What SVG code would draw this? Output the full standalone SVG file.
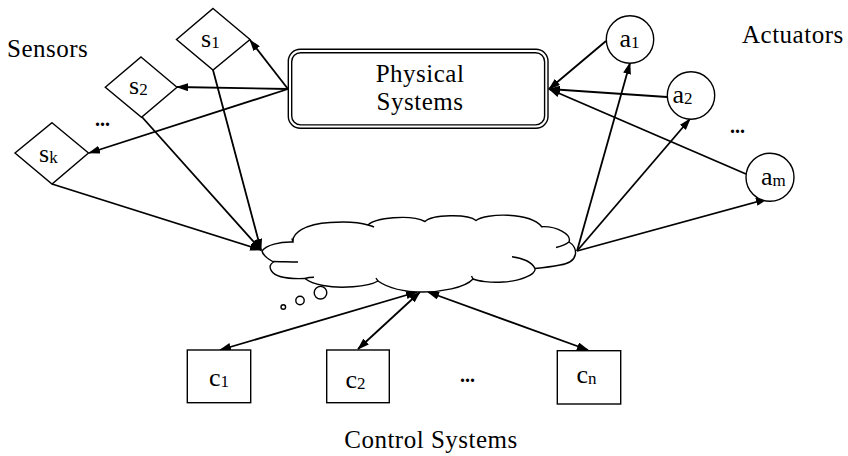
<svg xmlns="http://www.w3.org/2000/svg" width="848" height="456" viewBox="0 0 848 456">
  <defs>
    <marker id="arrow" viewBox="0 0 12 8" refX="11" refY="4" markerWidth="12" markerHeight="8" markerUnits="userSpaceOnUse" orient="auto-start-reverse">
      <path d="M0,0 L12,4 L0,8 z" fill="#000"/>
    </marker>
    <style>
      .shape { fill: #fff; stroke: #000; stroke-width: 1.4; }
      .edge { fill: none; stroke: #000; stroke-width: 1.8; }
      .tip { marker-end: url(#arrow); }
      .both { marker-start: url(#arrow); marker-end: url(#arrow); }
      .thin { fill: none; stroke: #000; stroke-width: 1.4; }
      text { font-family: "Liberation Serif", "Times New Roman", serif; fill: #000; }
      .label { font-size: 25px; letter-spacing: 0.5px; }
      .sym { font-size: 26px; }
      .sub { font-size: 17px; }
      .dots { font-size: 20px; font-weight: bold; }
    </style>
  </defs>

  <rect width="848" height="456" fill="#fff"/>

  <!-- connectors -->
  <g id="connectors">
    <!-- physical systems to sensors -->
    <line class="edge tip" x1="288" y1="89" x2="250" y2="40"/>
    <line class="edge tip" x1="288" y1="89" x2="177" y2="87"/>
    <line class="edge tip" x1="288" y1="89" x2="89" y2="153"/>
    <!-- sensors to network -->
    <line class="edge tip" x1="213" y1="70" x2="261" y2="250"/>
    <line class="edge tip" x1="142" y1="117" x2="261" y2="250"/>
    <line class="edge tip" x1="52" y1="184" x2="261" y2="250"/>
    <!-- network to actuators -->
    <line class="edge tip" x1="577" y1="251" x2="630" y2="63"/>
    <line class="edge tip" x1="577" y1="251" x2="690" y2="119"/>
    <line class="edge tip" x1="577" y1="251" x2="767" y2="199"/>
    <!-- actuators to physical systems -->
    <line class="edge tip" x1="606" y1="41" x2="549" y2="89"/>
    <line class="edge tip" x1="667" y1="97" x2="549" y2="89"/>
    <line class="edge tip" x1="746" y1="174" x2="549" y2="89"/>
    <!-- control systems and network -->
    <line class="edge both" x1="220" y1="350" x2="417" y2="292"/>
    <line class="edge both" x1="358" y1="349" x2="420" y2="292"/>
    <line class="edge both" x1="588" y1="350" x2="428" y2="292"/>
  </g>

  <!-- network cloud -->
  <g id="network">
    <path class="shape" d="M262,251
      C266,245 280,241.5 293,242
      C292,233 305,224 330,222.5
      C345,221.5 360,222.5 368,225
      C375,218 410,214 425,221.5
      C432,214.5 468,213.5 476,220.5
      C486,213 530,212 541.7,226.7
      C556,226 572,234 569,242
      C578,247 580,262 560,265
      C550,267 540,268 535,268.5
      C536,274 522,281 503,282
      C490,283 478,281 473,279
      C465,288 440,292 423,292
      C405,292 388,288 378,281
      C368,287 340,289 323,285.5
      C315,284 308,281 305,278.5
      C292,279 276,278 271.5,271
      C269,267 270,264 273.5,262
      C268,259 263,256 262,251 Z"/>
    <path class="thin" d="M273,261.5 C280,261.5 290,262 298,262"/>
    <path class="thin" d="M293,242 C292.5,240.5 292,239.5 292,238.5"/>
    <path class="thin" d="M368,225 C370,225.5 372,226 374,227"/>
    <path class="thin" d="M378,281 C377,279.5 376.5,279 376,278"/>
    <path class="thin" d="M305,278.5 C308,277.5 311,277.3 314,277.3"/>
    <path class="thin" d="M473,279 C472.5,278 472,277 471.5,276"/>
    <path class="thin" d="M512,256.7 C522,258 532,262 535,268.5"/>
    <path class="thin" d="M569,242 C565,245 560,246.5 556,247.5"/>
    <circle class="thin" cx="320.5" cy="292.7" r="6.3"/>
    <circle class="thin" cx="300" cy="300.5" r="4.2"/>
    <circle class="thin" cx="283.3" cy="307" r="2.3"/>
  </g>

  <!-- physical systems -->
  <g id="physical">
    <rect class="shape" x="288.3" y="49.3" width="259.7" height="79" rx="12"/>
    <rect class="thin" x="291.7" y="52.7" width="252.9" height="72.2" rx="9"/>
    <text class="label" x="420" y="82" text-anchor="middle">Physical</text>
    <text class="label" x="420" y="110" text-anchor="middle">Systems</text>
  </g>

  <!-- sensors -->
  <g id="sensor-1">
    <polygon class="shape" points="213,8.5 250,39.5 213,70 176.5,39.5"/>
    <text x="201" y="46.7"><tspan class="sym">s</tspan><tspan class="sub" dy="1">1</tspan></text>
  </g>
  <g id="sensor-2">
    <polygon class="shape" points="141,57 177,87.3 141.5,117.3 105.3,87.3"/>
    <text x="129" y="94.3"><tspan class="sym">s</tspan><tspan class="sub" dy="1">2</tspan></text>
  </g>
  <g id="sensor-k">
    <polygon class="shape" points="52,122.7 88.5,153 52,184 15,153"/>
    <text x="39" y="161.7"><tspan class="sym">s</tspan><tspan class="sub" dy="1">k</tspan></text>
  </g>

  <!-- actuators -->
  <g id="actuator-1">
    <circle class="shape" cx="630" cy="39.5" r="23.7"/>
    <text x="619.5" y="46.7"><tspan class="sym">a</tspan><tspan class="sub" dy="1">1</tspan></text>
  </g>
  <g id="actuator-2">
    <circle class="shape" cx="691" cy="95.5" r="23.7"/>
    <text x="672.5" y="103.3"><tspan class="sym">a</tspan><tspan class="sub" dy="1">2</tspan></text>
  </g>
  <g id="actuator-m">
    <circle class="shape" cx="770" cy="177.3" r="24"/>
    <text x="761" y="185"><tspan class="sym">a</tspan><tspan class="sub" dy="1">m</tspan></text>
  </g>

  <!-- control systems -->
  <g id="control-1">
    <rect class="shape" x="187.3" y="350" width="63.4" height="52.7"/>
    <text x="209" y="386"><tspan class="sym">c</tspan><tspan class="sub" dy="1">1</tspan></text>
  </g>
  <g id="control-2">
    <rect class="shape" x="326.7" y="350" width="62.6" height="52.7"/>
    <text x="345.5" y="388.3"><tspan class="sym">c</tspan><tspan class="sub" dy="1">2</tspan></text>
  </g>
  <g id="control-n">
    <rect class="shape" x="557.3" y="350.7" width="63.4" height="53.3"/>
    <text x="576.5" y="383.3"><tspan class="sym">c</tspan><tspan class="sub" dy="1">n</tspan></text>
  </g>

  <!-- group labels -->
  <g id="labels">
    <text class="label" x="7" y="56.7">Sensors</text>
    <text class="label" x="742" y="43.3">Actuators</text>
    <text class="label" x="431" y="448" text-anchor="middle">Control Systems</text>
    <text class="dots" x="95" y="126">...</text>
    <text class="dots" x="730" y="133">...</text>
    <text class="dots" x="460" y="382">...</text>
  </g>
</svg>
